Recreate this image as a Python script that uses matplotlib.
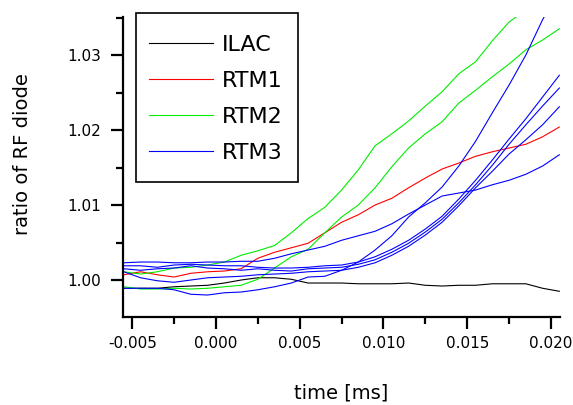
import matplotlib
matplotlib.use("Agg")
import matplotlib.pyplot as plt
from matplotlib.patches import Rectangle
from matplotlib.ticker import MultipleLocator, FormatStrFormatter

plt.rcParams['font.family'] = ['DejaVu Sans']
plt.rcParams['axes.unicode_minus'] = False

time_ms = [-0.0055, -0.0045, -0.0035, -0.0025, -0.0015, -0.0005, 0.0005, 0.0015,
           0.0025, 0.0035, 0.0045, 0.0055, 0.0065, 0.0075, 0.0085, 0.0095,
           0.0105, 0.0115, 0.0125, 0.0135, 0.0145, 0.0155, 0.0165, 0.0175,
           0.0185, 0.0195, 0.0205]

ilac = [0.9989, 0.9989, 0.9989, 0.9991, 0.9992, 0.9993, 0.9996, 1.0000, 1.0003,
        1.0003, 1.0001, 0.9996, 0.9996, 0.9996, 0.9995, 0.9995, 0.9995, 0.9996,
        0.9993, 0.9992, 0.9993, 0.9993, 0.9995, 0.9995, 0.9995, 0.9989, 0.9985]

rtm1 = [1.0007, 1.0011, 1.0007, 1.0004, 1.0009, 1.0011, 1.0012, 1.0015, 1.0029,
        1.0037, 1.0043, 1.0049, 1.0063, 1.0077, 1.0087, 1.0100, 1.0109, 1.0123,
        1.0136, 1.0148, 1.0156, 1.0165, 1.0171, 1.0176, 1.0181, 1.0191, 1.0204]

rtm2_a = [1.0011, 1.0008, 1.0011, 1.0016, 1.0017, 1.0020, 1.0024, 1.0033, 1.0039,
          1.0046, 1.0063, 1.0082, 1.0097, 1.0120, 1.0147, 1.0179, 1.0195, 1.0212,
          1.0232, 1.0251, 1.0275, 1.0291, 1.0319, 1.0344, 1.0360, 1.0380, 1.0400]

rtm2_b = [0.9991, 0.9988, 0.9988, 0.9989, 0.9988, 0.9989, 0.9991, 0.9993, 1.0001,
          1.0016, 1.0031, 1.0041, 1.0063, 1.0084, 1.0100, 1.0123, 1.0151, 1.0176,
          1.0195, 1.0211, 1.0236, 1.0253, 1.0271, 1.0288, 1.0307, 1.0320, 1.0335]

rtm3_a = [1.0023, 1.0024, 1.0024, 1.0023, 1.0023, 1.0024, 1.0024, 1.0025, 1.0025,
          1.0029, 1.0035, 1.0040, 1.0045, 1.0053, 1.0059, 1.0065, 1.0075, 1.0088,
          1.0100, 1.0112, 1.0116, 1.0120, 1.0127, 1.0133, 1.0141, 1.0152, 1.0167]

rtm3_b = [1.0019, 1.0019, 1.0017, 1.0020, 1.0021, 1.0020, 1.0019, 1.0019, 1.0017,
          1.0016, 1.0016, 1.0017, 1.0019, 1.0020, 1.0024, 1.0031, 1.0041, 1.0053,
          1.0068, 1.0085, 1.0108, 1.0133, 1.0160, 1.0188, 1.0215, 1.0244, 1.0273]

rtm3_c = [1.0015, 1.0013, 1.0015, 1.0016, 1.0019, 1.0016, 1.0015, 1.0013, 1.0015,
          1.0013, 1.0012, 1.0015, 1.0016, 1.0017, 1.0021, 1.0027, 1.0037, 1.0049,
          1.0064, 1.0081, 1.0103, 1.0127, 1.0153, 1.0181, 1.0207, 1.0232, 1.0256]

rtm3_d = [1.0011, 1.0003, 0.9999, 0.9997, 1.0000, 1.0003, 1.0004, 1.0005, 1.0007,
          1.0008, 1.0009, 1.0011, 1.0012, 1.0013, 1.0017, 1.0023, 1.0033, 1.0045,
          1.0060, 1.0077, 1.0099, 1.0123, 1.0145, 1.0168, 1.0187, 1.0207, 1.0231]

rtm3_e = [0.9989, 0.9989, 0.9989, 0.9987, 0.9981, 0.9980, 0.9983, 0.9984, 0.9987,
          0.9991, 0.9996, 1.0004, 1.0005, 1.0013, 1.0024, 1.0040, 1.0059, 1.0084,
          1.0103, 1.0124, 1.0152, 1.0185, 1.0223, 1.0260, 1.0300, 1.0347, 1.0387]

x_ticks = [-0.005, 0.000, 0.005, 0.010, 0.015, 0.020]
y_ticks = [1.00, 1.01, 1.02, 1.03]

BLACK = '#000000'
RED = '#ff0000'
GREEN = '#00ee00'
BLUE = '#0000ff'
LW = 0.8

fig = plt.figure(figsize=(5.73, 4.05), dpi=100)
ax = fig.add_axes([123/573, 88/405, 437/573, 300/405])

ax.plot(time_ms, ilac, color=BLACK, lw=LW, label='ILAC')
ax.plot(time_ms, rtm1, color=RED, lw=LW, label='RTM1')
ax.plot(time_ms, rtm2_a, color=GREEN, lw=LW, label='RTM2')
ax.plot(time_ms, rtm2_b, color=GREEN, lw=LW)
ax.plot(time_ms, rtm3_a, color=BLUE, lw=LW, label='RTM3')
for s in (rtm3_b, rtm3_c, rtm3_d, rtm3_e):
    ax.plot(time_ms, s, color=BLUE, lw=LW)

ax.set_xlim(-0.00555, 0.02054)
ax.set_ylim(0.99507, 1.03507)

for side in ('top', 'right'):
    ax.spines[side].set_visible(False)
for side in ('left', 'bottom'):
    ax.spines[side].set_linewidth(1.6)

ax.set_xticks(x_ticks)
ax.set_yticks(y_ticks)
ax.xaxis.set_minor_locator(MultipleLocator(0.0025))
ax.yaxis.set_minor_locator(MultipleLocator(0.005))
ax.xaxis.set_major_formatter(FormatStrFormatter('%.3f'))
ax.yaxis.set_major_formatter(FormatStrFormatter('%.2f'))
ax.tick_params(which='major', direction='out', length=8.5, width=1.6, labelsize=11)
ax.tick_params(axis='x', which='major', pad=5)
ax.tick_params(axis='y', which='major', pad=7)
ax.tick_params(which='minor', direction='out', length=5, width=1.6)

ax.set_xlabel('time [ms]', fontsize=14)
ax.xaxis.set_label_coords(0.5, -0.223)
ax.set_ylabel('ratio of RF diode', fontsize=14, va='center')
ax.yaxis.set_label_coords(-0.231, 0.543)

leg = ax.legend(loc='upper left', bbox_to_anchor=(149/573, 1 - 35/405),
                bbox_transform=fig.transFigure, borderaxespad=0,
                fontsize=16, handlelength=2.9, handletextpad=0.4,
                borderpad=0, labelspacing=0.72, frameon=False)

fig.patches.append(Rectangle((136/573, 1 - 182/405), 162/573, 169/405,
                             transform=fig.transFigure, fill=False,
                             edgecolor='black', linewidth=1.2, figure=fig))

fig.savefig('out.png', dpi=100)
